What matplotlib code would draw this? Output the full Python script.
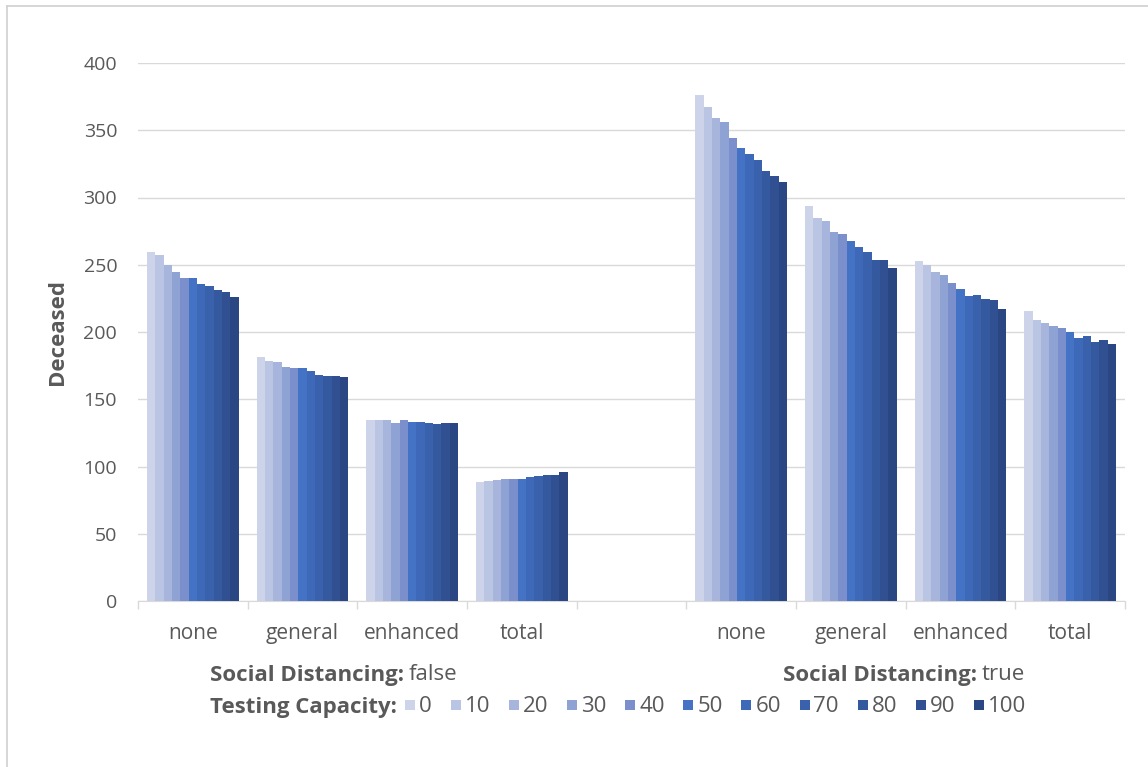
import matplotlib
matplotlib.use('Agg')
import matplotlib.pyplot as plt
from matplotlib.lines import Line2D
import numpy as np

plt.rcParams['font.family'] = ['Open Sans', 'DejaVu Sans']

# Testing capacity levels (one bar each per group)
CAPACITY = ['0', '10', '20', '30', '40', '50', '60', '70', '80', '90', '100']
CATEGORIES = ['none', 'general', 'enhanced', 'total']

# Deceased, social distancing = false
SD_FALSE = {
    'none':     [259.4, 257.6, 249.5, 244.9, 240.2, 240.2, 235.4, 234.4, 231.5, 229.5, 225.8],
    'general':  [181.6, 178.7, 177.7, 174.0, 173.0, 173.0, 170.9, 168.3, 167.3, 167.3, 166.5],
    'enhanced': [134.3, 134.3, 134.3, 132.3, 134.3, 133.3, 133.3, 132.6, 131.6, 132.6, 132.6],
    'total':    [88.2, 89.2, 90.2, 91.0, 91.0, 91.0, 92.0, 92.9, 93.9, 93.9, 96.0],
}
# Deceased, social distancing = true
SD_TRUE = {
    'none':     [376.4, 367.0, 359.4, 356.4, 344.6, 337.0, 332.3, 327.6, 320.0, 316.0, 311.3],
    'general':  [293.9, 284.5, 282.2, 274.6, 272.6, 268.0, 263.2, 259.3, 253.5, 253.5, 247.8],
    'enhanced': [252.6, 249.5, 244.8, 242.2, 236.2, 232.3, 226.5, 227.7, 224.8, 223.8, 217.1],
    'total':    [215.4, 208.7, 206.5, 204.7, 202.8, 199.8, 195.8, 196.8, 192.8, 194.0, 191.0],
}

COLORS = ['#CDD4EA', '#BAC4E3', '#A7B4DC', '#8FA2D4', '#7A8FCC', '#4472C4',
          '#3E69B9', '#3961AC', '#35599E', '#305091', '#2B4783']
TEXT = '#595959'
GRID = '#D9D9D9'
FS_Y = 14      # value axis numbers
FS_CAT = 15    # category names
FS = 16        # axis title, group labels, legend

fig = plt.figure(figsize=(11.48, 7.67), dpi=100)
ax = fig.add_axes([138 / 1148, 1 - 601 / 767, (1125 - 138) / 1148, (601 - 63) / 767])

# slot 0-3 = false, slot 4 empty, slot 5-8 = true
slots = [0, 1, 2, 3, 5, 6, 7, 8]
groups = [SD_FALSE[c] for c in CATEGORIES] + [SD_TRUE[c] for c in CATEGORIES]
n = len(CAPACITY)
group_w = 0.836
bw = group_w / n

for i in range(n):
    xs = [s - group_w / 2 + bw * (i + 0.5) for s in slots]
    vals = [g[i] for g in groups]
    ax.bar(xs, vals, width=bw, color=COLORS[i], linewidth=0, zorder=3)

ax.set_xlim(-0.5, 8.5)
ax.set_ylim(0, 400)
ax.set_yticks(np.arange(0, 401, 50))
ax.yaxis.grid(True, color=GRID, linewidth=1)
ax.set_axisbelow(True)
ax.tick_params(axis='y', length=0, pad=15, labelsize=FS_Y, labelcolor=TEXT)

ax.set_xticks(slots)
ax.set_xticklabels(CATEGORIES * 2)
ax.set_xticks(np.arange(-0.5, 9, 1.0), minor=True)
ax.tick_params(axis='x', which='major', length=0, pad=16, labelsize=FS_CAT, labelcolor=TEXT)
ax.tick_params(axis='x', which='minor', length=6, color=GRID, width=1)

for side in ['top', 'right', 'left']:
    ax.spines[side].set_visible(False)
ax.spines['bottom'].set_color(GRID)

ax.set_ylabel('Deceased', fontsize=FS, fontweight='bold', color=TEXT, labelpad=11)

# group labels under the category axis
fig.canvas.draw()
r = fig.canvas.get_renderer()
y_sd = 1 - 675 / 767
t1 = fig.text(210 / 1148, y_sd, 'Social Distancing:', fontsize=FS, color=TEXT,
              va='center', ha='left', fontweight='bold')
bb = t1.get_window_extent(r)
fig.text((bb.x1 + 5) / 1148, y_sd, 'false', fontsize=FS, color=TEXT, va='center', ha='left')

t2 = fig.text(1025 / 1148, y_sd, 'true', fontsize=FS, color=TEXT, va='center', ha='right')
bb2 = t2.get_window_extent(r)
fig.text((bb2.x0 - 5) / 1148, y_sd, 'Social Distancing:', fontsize=FS, color=TEXT,
         va='center', ha='right', fontweight='bold')

y_tc = 1 - 707 / 767
t3 = fig.text(210 / 1148, y_tc, 'Testing Capacity:', fontsize=FS, color=TEXT,
              va='center', ha='left', fontweight='bold')
bb3 = t3.get_window_extent(r)

handles = [Line2D([], [], marker='s', linestyle='none', markersize=6.5,
                  markerfacecolor=c, markeredgewidth=0, label=lab)
           for c, lab in zip(COLORS, CAPACITY)]
fig.legend(handles=handles, ncol=n, loc='center left',
           bbox_to_anchor=((bb3.x1 + 8) / 1148, y_tc), frameon=False,
           fontsize=FS, labelcolor=TEXT, handlelength=0.5, handletextpad=0.15,
           columnspacing=0.82, borderaxespad=0, borderpad=0)

# chart area border (top and left visible in the crop)
fig.add_artist(Line2D([7 / 1148, 7 / 1148], [0, 1 - 6 / 767], color='#D0D0D0', linewidth=1.2,
                      transform=fig.transFigure))
fig.add_artist(Line2D([7 / 1148, 1], [1 - 6 / 767, 1 - 6 / 767], color='#D0D0D0', linewidth=1.2,
                      transform=fig.transFigure))

plt.savefig('out.png', dpi=100)
